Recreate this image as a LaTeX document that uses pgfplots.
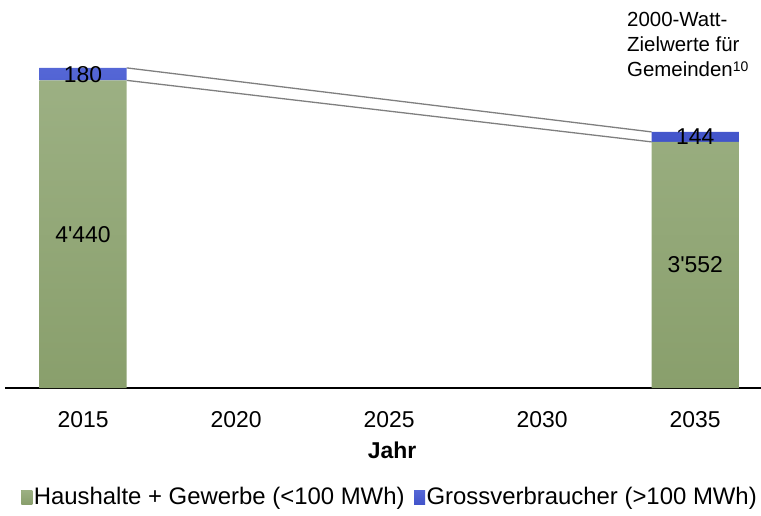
\documentclass[border=0pt]{standalone}
\usepackage{pgfplots}
\pgfplotsset{compat=1.18}
\usepackage{fontspec}
\newfontfamily\arial{Liberation Sans}
\definecolor{grtop}{HTML}{9CB083}
\definecolor{grbot}{HTML}{899F6C}
\definecolor{bltop}{HTML}{5567D6}
\definecolor{blbot}{HTML}{4254CA}
\definecolor{linegray}{HTML}{7F7F7F}
\begin{document}
\begin{tikzpicture}[font=\arial\fontsize{23}{27}\selectfont]
\useasboundingbox (-5bp,-128bp) rectangle (756bp,388bp);
% Verbindungslinien (eigene Achse, nicht gestapelt)
\begin{axis}[
  at={(0,0)}, anchor=south west, scale only axis,
  width=756bp, height=388bp,
  xmin=-0.51, xmax=4.43, ymin=0, ymax=5600,
  hide axis]
  \addplot[linegray, line width=1.3bp, mark=none] coordinates {(0.285,4620) (3.715,3696)};
  \addplot[linegray, line width=1.3bp, mark=none] coordinates {(0.285,4440) (3.715,3552)};
\end{axis}
\begin{axis}[
  at={(0,0)}, anchor=south west, scale only axis,
  width=756bp, height=388bp,
  ybar stacked, bar width=0.57,
  xmin=-0.51, xmax=4.43, ymin=0, ymax=5600,
  axis x line=bottom, axis y line=none,
  x axis line style={line width=1.6bp, -},
  xtick={0,1,2,3,4}, xticklabels={2015,2020,2025,2030,2035},
  major tick length=0pt,
  xticklabel style={anchor=center, yshift=-32bp},
  xlabel={\bfseries Jahr},
  xlabel style={at={(axis description cs:0.512,0)}, anchor=center, yshift=-62bp},
  legend style={at={(axis description cs:0.509,-0.281)}, anchor=center,
    draw=none, fill=none, legend columns=2,
    font=\arial\fontsize{24}{28}\selectfont,
    /tikz/every even column/.append style={column sep=8bp},
    nodes={inner sep=1.5bp}},
  legend cell align=left,
  clip=false]
  \addplot[draw=none, top color=grtop, bottom color=grbot,
    legend image code/.code={\fill[grbot] (0bp,-7bp) rectangle (11bp,7bp);}]
    coordinates {(0,4440) (4,3552)};
  \addplot[draw=none, top color=bltop, bottom color=blbot,
    legend image code/.code={\fill[blbot] (0bp,-7bp) rectangle (11bp,7bp);}]
    coordinates {(0,180) (4,144)};
  \legend{Haushalte + Gewerbe (<100 MWh), Grossverbraucher (>100 MWh)}
\end{axis}
% Beschriftungen der Balken (oberste Ebene)
\begin{axis}[
  at={(0,0)}, anchor=south west, scale only axis,
  width=756bp, height=388bp,
  xmin=-0.51, xmax=4.43, ymin=0, ymax=5600,
  hide axis, clip=false]
  \node at (axis cs:0,4530) {180};
  \node at (axis cs:0,2220) {4'440};
  \node at (axis cs:4,3624) {144};
  \node at (axis cs:4,1776) {3'552};
\end{axis}
\node[anchor=north west, align=left, inner sep=0pt,
  font=\arial\fontsize{20.5}{25}\selectfont] at (622bp,376bp)
  {2000-Watt-\\Zielwerte für\\Gemeinden{\fontsize{14}{14}\selectfont\raisebox{5bp}{10}}};
\end{tikzpicture}
\end{document}
